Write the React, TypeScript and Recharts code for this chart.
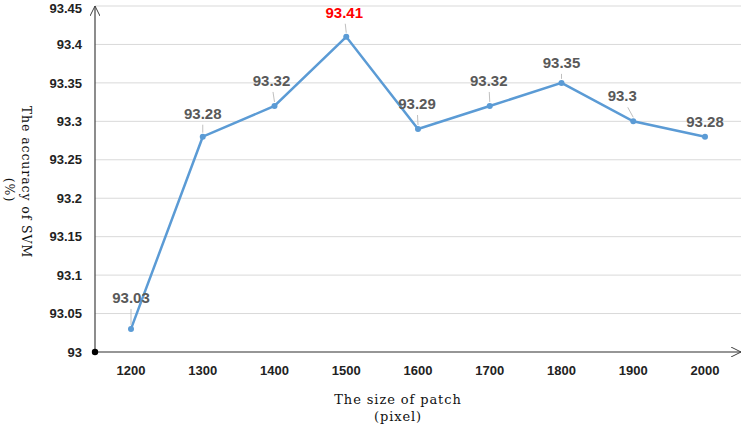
import { LineChart, Line, XAxis, YAxis, CartesianGrid, LabelList } from 'recharts'

// Patch sizes (pixel) and SVM accuracy (%)
const PATCH_SIZES = ['1200', '1300', '1400', '1500', '1600', '1700', '1800', '1900', '2000']
const ACCURACY = [93.03, 93.28, 93.32, 93.41, 93.29, 93.32, 93.35, 93.3, 93.28]
const Y_TICKS = [93, 93.05, 93.1, 93.15, 93.2, 93.25, 93.3, 93.35, 93.4, 93.45]

// label placement relative to its point: [dx, dy of baseline]
const LABEL_OFFSETS = [[0, -26], [0, -18], [-3, -20], [-2, -19], [-1, -20], [-1, -20], [0, -15], [-11, -20], [0, -10]]

const data = PATCH_SIZES.map((size, i) => ({ size, accuracy: ACCURACY[i] }))
const bestIndex = ACCURACY.indexOf(Math.max(...ACCURACY))

const LINE_COLOR = '#5B9BD5'
const AXIS_COLOR = '#404040'
const TITLE_FONT = '"DejaVu Serif", "Liberation Serif", serif'
const TICK_FONT = '"Liberation Sans", Arial, sans-serif'

function renderDataLabel(props: any) {
  const { index, value } = props
  const px = props.x ?? props.viewBox?.x
  const py = props.y ?? props.viewBox?.y
  const [dx, dy] = LABEL_OFFSETS[index]
  const tx = px + dx
  const ty = py + dy
  return (
    <g>
      {dy <= -15 && (
        <line x1={px} y1={py - 4} x2={tx - dx * 0.5} y2={ty + 6} stroke="#BFBFBF" strokeWidth={1} />
      )}
      <text
        x={tx}
        y={ty}
        textAnchor="middle"
        fontFamily={TICK_FONT}
        fontSize={15}
        fontWeight="bold"
        fill={index === bestIndex ? '#FF0000' : '#595959'}
      >
        {String(value)}
      </text>
    </g>
  )
}

function renderXTitle() {
  return (
    <text textAnchor="middle" fontFamily={TITLE_FONT} fontSize={13} letterSpacing={0.9} fill="#111">
      <tspan x={398} y={404}>The size of patch</tspan>
      <tspan x={398} y={421}>(pixel)</tspan>
    </text>
  )
}

function renderYTitle() {
  return (
    <g fontFamily={TITLE_FONT} fontSize={12.5} letterSpacing={0.9} fill="#111">
      <text x={26} y={182} transform="rotate(90 26 182)" textAnchor="middle" dominantBaseline="central">
        The accuracy of SVM
      </text>
      <text x={9} y={190} transform="rotate(90 9 190)" textAnchor="middle" dominantBaseline="central">
        (%)
      </text>
    </g>
  )
}

export default function App() {
  return (
    <div style={{ position: 'absolute', left: 0, top: 0, background: '#fff' }}>
      <LineChart width={742} height={428} data={data} margin={{ top: 6, right: 1, bottom: 0, left: 0 }}>
        <defs>
          <marker id="arrowHead" viewBox="0 0 10 10" refX="10" refY="5" markerWidth="10" markerHeight="10"
            markerUnits="userSpaceOnUse" orient="auto-start-reverse">
            <path d="M0,0 L10,5 L0,10" fill="none" stroke={AXIS_COLOR} strokeWidth={1} />
          </marker>
          <marker id="originDot" viewBox="0 0 8 8" refX="4" refY="4" markerWidth="8" markerHeight="8"
            markerUnits="userSpaceOnUse">
            <circle cx={4} cy={4} r={3.2} fill="#000" />
          </marker>
        </defs>
        <CartesianGrid vertical={false} stroke="#D9D9D9" />
        <XAxis
          dataKey="size"
          height={76}
          padding={{ left: 36, right: 36 }}
          tickLine={false}
          tickSize={0}
          tickMargin={14}
          axisLine={{ stroke: AXIS_COLOR, strokeWidth: 1.2, markerEnd: 'url(#arrowHead)' } as any}
          tick={{ fontFamily: TICK_FONT, fontSize: 13, fontWeight: 'bold', fill: '#222' }}
          label={renderXTitle}
        />
        <YAxis
          width={95}
          domain={[93, 93.45]}
          ticks={Y_TICKS}
          tickLine={false}
          tickSize={0}
          tickMargin={13}
          tickFormatter={(v: number) => String(Number(v.toFixed(2)))}
          axisLine={{ stroke: AXIS_COLOR, strokeWidth: 1.2, markerStart: 'url(#arrowHead)', markerEnd: 'url(#originDot)' } as any}
          tick={{ fontFamily: TICK_FONT, fontSize: 13, fontWeight: 'bold', fill: '#222' }}
          label={renderYTitle}
        />
        <Line
          type="linear"
          dataKey="accuracy"
          stroke={LINE_COLOR}
          strokeWidth={2.5}
          dot={{ r: 3, fill: LINE_COLOR, stroke: LINE_COLOR, strokeWidth: 0 }}
          activeDot={false}
          isAnimationActive={false}
        >
          <LabelList dataKey="accuracy" content={renderDataLabel} />
        </Line>
      </LineChart>
    </div>
  )
}
